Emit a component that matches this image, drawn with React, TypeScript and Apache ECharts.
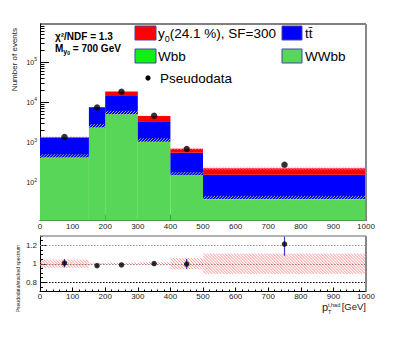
import React, { useEffect, useRef } from "react";
import * as echarts from "echarts";

// ---------- data ----------
const binEdges = [0, 150, 200, 300, 400, 500, 1000];
const wwbb = [420, 2370, 5070, 1045, 152, 38.5];
const wbb = [4, 12, 25, 8, 2, 0.6];
const ttbar = [916, 4868, 9405, 2337, 402, 119];
const signal = [30, 450, 4300, 1210, 141, 70];
const pseudodata = [1370, 7500, 18500, 4650, 690, 280];
const ratio = [1.006, 0.979, 0.987, 1.002, 0.997, 1.213];
const ratioErr = [0.045, 0.008, 0.006, 0.01, 0.055, 0.127];
const bandRel = [0.045, 0.012, 0.01, 0.015, 0.06, 0.11];
const logTicks = [100, 1000, 10000, 100000];
const ratioTicks = [0.8, 1, 1.2];
const xTickLabels = [0, 100, 200, 300, 400, 500, 600, 700, 800, 900, 1000];

// ---------- layout / style constants ----------
const FONT = '"Liberation Sans", Arial, Helvetica, sans-serif';
const Y_MIN = 11.3;
const Y_MAX = 9e5;
const R_MIN = 0.7;
const R_MAX = 1.3;
const GX0 = 40;
const GX1 = 366;
const M_TOP = 24;
const M_BOT = 220.7;
const R_TOP = 236;
const R_BOT = 291.5;

const COLORS = {
  wwbb: "#57d657",
  wbb: "#11ee11",
  tt: "#0000ff",
  sig: "#ff0000",
};

const minorLogTicks: number[] = [];
for (let e = 1; e <= 5; e++) {
  for (let k = 2; k <= 9; k++) {
    const v = k * Math.pow(10, e);
    if (v > Y_MIN && v < Y_MAX) minorLogTicks.push(v);
  }
}

const binCenters = binEdges.slice(0, -1).map((e, i) => (e + binEdges[i + 1]) / 2);

function clampRect(params: any, ya: number, yb: number) {
  const cs = params.coordSys;
  const top = cs.y;
  const bot = cs.y + cs.height;
  return [Math.max(top, Math.min(bot, ya)), Math.max(top, Math.min(bot, yb))];
}

function hatch(
  x0: number,
  y0: number,
  x1: number,
  y1: number,
  spacing: number,
  dir: number,
  color: string,
  width: number
) {
  const children: any[] = [];
  if (dir > 0) {
    // "\" lines: y = x + c
    for (let c = y0 - x1; c <= y1 - x0; c += spacing) {
      const xa = Math.max(x0, y0 - c);
      const xb = Math.min(x1, y1 - c);
      if (xb > xa) children.push({ type: "line", shape: { x1: xa, y1: xa + c, x2: xb, y2: xb + c }, style: { stroke: color, lineWidth: width } });
    }
  } else {
    // "/" lines: x + y = c
    for (let c = x0 + y0; c <= x1 + y1; c += spacing) {
      const xa = Math.max(x0, c - y1);
      const xb = Math.min(x1, c - y0);
      if (xb > xa) children.push({ type: "line", shape: { x1: xa, y1: c - xa, x2: xb, y2: c - xb }, style: { stroke: color, lineWidth: width } });
    }
  }
  return { type: "group", children };
}

function rectSeries(name: string, data: number[][], color: string) {
  return {
    type: "custom",
    name,
    xAxisIndex: 0,
    yAxisIndex: 0,
    silent: true,
    data,
    renderItem: (params: any, api: any) => {
      const pa = api.coord([api.value(0), api.value(3)]);
      const pb = api.coord([api.value(1), api.value(2)]);
      const [ya, yb] = clampRect(params, pa[1], pb[1]);
      return {
        type: "rect",
        shape: { x: pa[0], y: ya, width: pb[0] - pa[0], height: yb - ya },
        style: { fill: color, stroke: "none" },
      };
    },
  };
}

function hatchSeries(name: string, data: number[][], xi: number, yi: number, color: string, dir: number, z: number) {
  return {
    type: "custom",
    name,
    xAxisIndex: xi,
    yAxisIndex: yi,
    silent: true,
    z,
    data,
    renderItem: (params: any, api: any) => {
      const pa = api.coord([api.value(0), api.value(3)]);
      const pb = api.coord([api.value(1), api.value(2)]);
      const [ya, yb] = clampRect(params, pa[1], pb[1]);
      return hatch(pa[0], ya, pb[0], yb, 3, dir, color, 0.8);
    },
  };
}

export default function App() {
  const ref = useRef<HTMLDivElement>(null);

  useEffect(() => {
    if (!ref.current) return;
    const chart = echarts.init(ref.current, undefined, { renderer: "svg" });

    // stacked layers
    const layerVals = [wwbb, wbb, ttbar, signal];
    const layerCols = [COLORS.wwbb, COLORS.wbb, COLORS.tt, COLORS.sig];
    const layerNames = ["WWbb", "Wbb", "tt", "y0"];
    const cum = binEdges.slice(0, -1).map(() => Y_MIN);
    const layerSeries: any[] = [];
    layerVals.forEach((vals, li) => {
      const data = vals.map((v, i) => {
        const lo = li === 0 ? Y_MIN : cum[i];
        const hi = (li === 0 ? 0 : cum[i]) + v;
        cum[i] = hi;
        return [binEdges[i], binEdges[i + 1], lo, hi];
      });
      layerSeries.push(rectSeries(layerNames[li], data, layerCols[li]));
    });
    const totals = cum.slice();

    const totalBand = totals.map((t, i) => [binEdges[i], binEdges[i + 1], t * (1 - bandRel[i]), t * (1 + bandRel[i])]);
    const wwbbBand = wwbb.map((v, i) => [binEdges[i], binEdges[i + 1], v * 0.96, v * 1.22]);
    const ratioBand = bandRel.map((b, i) => [binEdges[i], binEdges[i + 1], 1 - b, 1 + b]);

    const axisLabelBase = { fontSize: 8, color: "#222", fontFamily: FONT };
    const plain = (v: number) => String(v);

    const option: any = {
      animation: false,
      backgroundColor: "#ffffff",
      grid: [
        { left: GX0, top: M_TOP, width: GX1 - GX0, height: M_BOT - M_TOP, outerBoundsMode: "none" },
        { left: GX0, top: R_TOP, width: GX1 - GX0, height: R_BOT - R_TOP, outerBoundsMode: "none" },
      ],
      xAxis: [
        {
          type: "value",
          gridIndex: 0,
          min: 0,
          max: 1000,
          interval: 100,
          axisLine: { onZero: false, lineStyle: { color: "#000", width: 1 } },
          axisTick: { inside: true, length: 6, lineStyle: { color: "#000" } },
          minorTick: { show: true, splitNumber: 5, length: 3, lineStyle: { color: "#000" } },
          axisLabel: { ...axisLabelBase, margin: 2, customValues: xTickLabels, formatter: plain },
          splitLine: { show: false },
        },
        {
          type: "value",
          gridIndex: 1,
          min: 0,
          max: 1000,
          interval: 100,
          axisLine: { onZero: false, lineStyle: { color: "#000", width: 1 } },
          axisTick: { inside: true, length: 4, lineStyle: { color: "#000" } },
          minorTick: { show: true, splitNumber: 5, length: 2, lineStyle: { color: "#000" } },
          axisLabel: { ...axisLabelBase, margin: 1, lineHeight: 8, customValues: xTickLabels, formatter: plain },
          splitLine: { show: false },
        },
      ],
      yAxis: [
        {
          type: "log",
          logBase: 10,
          gridIndex: 0,
          min: Y_MIN,
          max: Y_MAX,
          position: "left",
          axisLine: { show: true, lineStyle: { color: "#000", width: 1 } },
          axisTick: { show: true, inside: true, length: 9, customValues: logTicks, lineStyle: { color: "#000" } },
          axisLabel: {
            ...axisLabelBase,
            fontSize: 7,
            margin: 3,
            customValues: logTicks,
            formatter: (v: number) => `10{sup|${Math.round(Math.log10(v))}}`,
            lineHeight: 11,
            rich: { sup: { fontSize: 5, verticalAlign: "top", lineHeight: 6, fontFamily: FONT, color: "#222" } },
          },
          splitLine: { show: false },
        },
        {
          type: "log",
          logBase: 10,
          gridIndex: 0,
          min: Y_MIN,
          max: Y_MAX,
          position: "left",
          offset: 0,
          axisLine: { show: false },
          axisTick: { show: true, inside: true, length: 4.5, customValues: minorLogTicks, lineStyle: { color: "#000" } },
          axisLabel: { show: false },
          splitLine: { show: false },
        },
        {
          type: "value",
          gridIndex: 1,
          min: R_MIN,
          max: R_MAX,
          interval: 0.05,
          position: "left",
          axisLine: { show: true, onZero: false, lineStyle: { color: "#000", width: 1 } },
          axisTick: { show: true, inside: true, length: 3, lineStyle: { color: "#000" } },
          axisLabel: { show: false },
          splitLine: { show: false },
        },
        {
          type: "value",
          gridIndex: 1,
          min: R_MIN,
          max: R_MAX,
          position: "left",
          offset: 0,
          axisLine: { show: false },
          axisTick: { show: true, inside: true, length: 7, customValues: ratioTicks, lineStyle: { color: "#000" } },
          axisLabel: { ...axisLabelBase, margin: 3, customValues: ratioTicks },
          splitLine: { show: false },
        },
      ],
      series: [
        ...layerSeries,
        hatchSeries("wwbbBand", wwbbBand, 0, 0, "#c8e65a", -1, 3),
        hatchSeries("totalBand", totalBand, 0, 0, "#ff8fa8", 1, 3),
        {
          type: "scatter",
          name: "Pseudodata",
          xAxisIndex: 0,
          yAxisIndex: 0,
          symbol: "circle",
          symbolSize: 6.5,
          itemStyle: { color: "#000" },
          silent: true,
          z: 5,
          data: pseudodata.map((v, i) => [binCenters[i], v]),
        },
        hatchSeries("ratioBand", ratioBand, 1, 2, "#ff6f6f", 1, 3),
        {
          type: "custom",
          name: "ratioErr",
          xAxisIndex: 1,
          yAxisIndex: 2,
          silent: true,
          z: 4,
          data: ratio.map((r, i) => [binCenters[i], r - ratioErr[i], r + ratioErr[i]]),
          renderItem: (params: any, api: any) => {
            const pa = api.coord([api.value(0), api.value(2)]);
            const pb = api.coord([api.value(0), api.value(1)]);
            const [ya, yb] = clampRect(params, pa[1], pb[1]);
            return { type: "line", shape: { x1: pa[0], y1: ya, x2: pb[0], y2: yb }, style: { stroke: "#3a3acc", lineWidth: 1.2 } };
          },
        },
        {
          type: "scatter",
          name: "Ratio",
          xAxisIndex: 1,
          yAxisIndex: 2,
          symbol: "circle",
          symbolSize: 5.5,
          itemStyle: { color: "#000" },
          silent: true,
          z: 5,
          data: ratio.map((r, i) => [binCenters[i], r]),
          markLine: {
            silent: true,
            symbol: "none",
            label: { show: false },
            z: 2,
            lineStyle: { type: [1.5, 1.5], width: 1 },
            data: [
              { yAxis: 0.8, lineStyle: { color: "#000" } },
              { yAxis: 1, lineStyle: { color: "#777" } },
              { yAxis: 1.2, lineStyle: { color: "#999" } },
            ],
          },
        },
      ],
      graphic: [
        // frames
        { type: "line", shape: { x1: GX0, y1: M_TOP, x2: GX1, y2: M_TOP }, style: { stroke: "#000", lineWidth: 1 }, z: 10 },
        { type: "line", shape: { x1: GX1, y1: M_TOP, x2: GX1, y2: M_BOT }, style: { stroke: "#888", lineWidth: 2 }, z: 10 },
        { type: "line", shape: { x1: GX0, y1: R_TOP, x2: GX1, y2: R_TOP }, style: { stroke: "#999", lineWidth: 1.5 }, z: 10 },
        { type: "line", shape: { x1: GX1, y1: R_TOP, x2: GX1, y2: R_BOT }, style: { stroke: "#888", lineWidth: 2 }, z: 10 },
        // labels in the plot
        {
          type: "text",
          x: 55,
          y: 36,
          style: { text: "χ²/NDF = 1.3", fontSize: 10, fontWeight: "bold", fontFamily: FONT, fill: "#000", verticalAlign: "middle" },
        },
        {
          type: "text",
          x: 55,
          y: 48,
          style: {
            text: "M{s|y}{ss|0} = 700 GeV",
            fontSize: 10,
            fontWeight: "bold",
            fontFamily: FONT,
            fill: "#000",
            verticalAlign: "middle",
            lineHeight: 14,
            rich: {
              s: { fontSize: 7, fontWeight: "bold", fontFamily: FONT, verticalAlign: "bottom", lineHeight: 8 },
              ss: { fontSize: 5, fontWeight: "bold", fontFamily: FONT, verticalAlign: "bottom", lineHeight: 5 },
            },
          },
        },
        // legend
        { type: "rect", shape: { x: 135, y: 26, width: 21, height: 14 }, style: { fill: COLORS.sig, stroke: "#4444aa", lineWidth: 1 } },
        {
          type: "text",
          x: 158,
          y: 33,
          style: {
            text: "y{s|0}(24.1 %), SF=300",
            fontSize: 13.5,
            fontFamily: FONT,
            fill: "#000",
            verticalAlign: "middle",
            lineHeight: 20,
            rich: { s: { fontSize: 9, fontFamily: FONT, verticalAlign: "bottom", lineHeight: 10 } },
          },
        },
        { type: "rect", shape: { x: 282, y: 26, width: 20, height: 14 }, style: { fill: COLORS.tt, stroke: "#4444aa", lineWidth: 1 } },
        { type: "text", x: 305, y: 33, style: { text: "tt\u0304", fontSize: 13.5, fontFamily: FONT, fill: "#000", verticalAlign: "middle" } },
        { type: "rect", shape: { x: 135, y: 49, width: 21, height: 14 }, style: { fill: COLORS.wbb, stroke: "#4444aa", lineWidth: 1 } },
        { type: "text", x: 158, y: 56, style: { text: "Wbb", fontSize: 13.5, fontFamily: FONT, fill: "#000", verticalAlign: "middle" } },
        { type: "rect", shape: { x: 282, y: 49, width: 20, height: 14 }, style: { fill: COLORS.wwbb, stroke: "#4444aa", lineWidth: 1 } },
        { type: "text", x: 305, y: 56, style: { text: "WWbb", fontSize: 13.5, fontFamily: FONT, fill: "#000", verticalAlign: "middle" } },
        { type: "circle", shape: { cx: 148, cy: 78, r: 2.6 }, style: { fill: "#000" } },
        { type: "text", x: 160, y: 78, style: { text: "Pseudodata", fontSize: 13.5, fontFamily: FONT, fill: "#000", verticalAlign: "middle" } },
        // axis titles
        {
          type: "text",
          x: 14.5,
          y: 28,
          rotation: Math.PI / 2,
          style: { text: "Number of events", fontSize: 8, fontFamily: FONT, fill: "#222", align: "right", verticalAlign: "middle" },
        },
        {
          type: "text",
          x: 17.5,
          y: 245,
          rotation: Math.PI / 2,
          style: { text: "Pseudodata/stacked spectrum", fontSize: 5, fontFamily: FONT, fill: "#222", align: "right", verticalAlign: "middle" },
        },
        { type: "text", x: 322, y: 306.5, style: { text: "p", fontSize: 11, lineHeight: 11, fontFamily: FONT, fill: "#222", verticalAlign: "middle" } },
        { type: "text", x: 328, y: 311.5, style: { text: "T", fontSize: 5.5, lineHeight: 5.5, fontFamily: FONT, fill: "#222", verticalAlign: "middle" } },
        { type: "text", x: 328, y: 304.5, style: { text: "t,had", fontSize: 5.5, lineHeight: 5.5, fontFamily: FONT, fill: "#222", verticalAlign: "middle" } },
        { type: "text", x: 366, y: 306, style: { text: "[GeV]", fontSize: 9.5, lineHeight: 9.5, fontFamily: FONT, fill: "#222", align: "right", verticalAlign: "middle" } },
      ],
    };

    chart.setOption(option);
    return () => chart.dispose();
  }, []);

  return <div ref={ref} style={{ position: "absolute", left: 0, top: 0, width: 407, height: 337 }} />;
}
